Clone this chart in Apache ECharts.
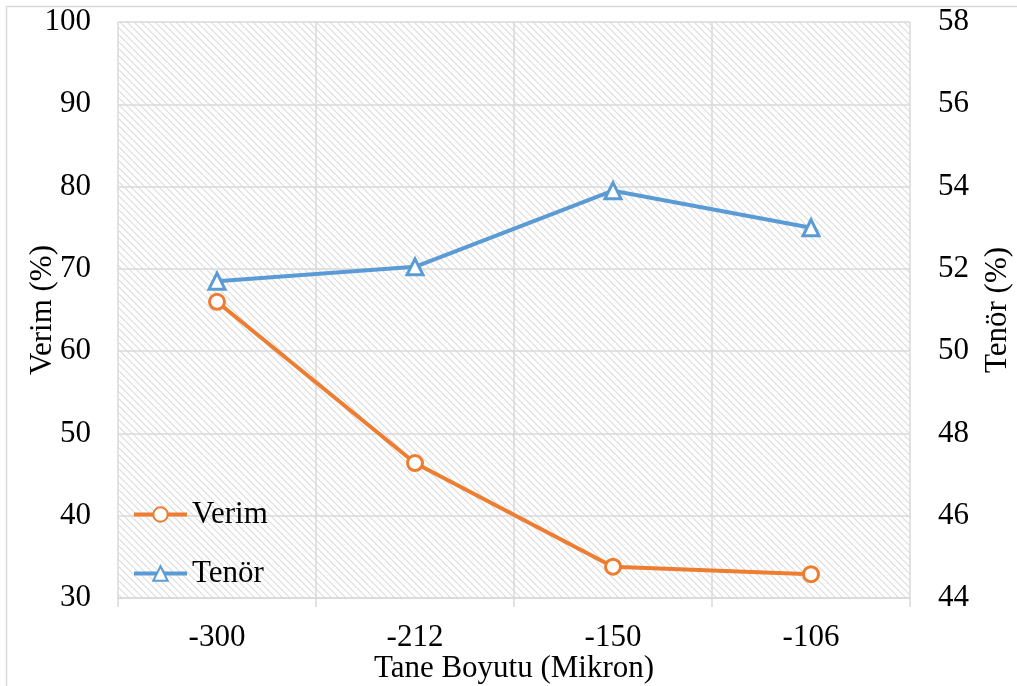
<!DOCTYPE html>
<html>
<head>
<meta charset="utf-8">
<script src="https://cdn.jsdelivr.net/npm/echarts@6/dist/echarts.min.js"></script>
<style>
html,body{margin:0;padding:0;background:#fff;}
#chart{width:1017px;height:686px;}
</style>
</head>
<body>
<div id="chart"></div>
<script>
const categories = ['-300', '-212', '-150', '-106'];
const verim = [66.0, 46.4, 33.8, 32.9];
const tenor = [51.7, 52.05, 53.9, 53.0];
const leftTicks = { min: 30, max: 100, interval: 10 };
const rightTicks = { min: 44, max: 58, interval: 2 };

const T = 7;
const tile = document.createElement('canvas');
tile.width = T; tile.height = T;
const ctx = tile.getContext('2d');
ctx.fillStyle = '#ffffff';
ctx.fillRect(0, 0, T, T);
ctx.strokeStyle = '#dcdcdc';
ctx.lineWidth = 1.2;
for (let k = -1; k <= 1; k++) {
  ctx.beginPath();
  ctx.moveTo(k * T, 0);
  ctx.lineTo(k * T + T, T);
  ctx.stroke();
}

const FONT = '"Liberation Serif", "Times New Roman", serif';
const FS = 31;
const gray = '#d9d9d9';
const chart = echarts.init(document.getElementById('chart'));
chart.setOption({
  animation: false,
  backgroundColor: '#ffffff',
  textStyle: { fontFamily: FONT, color: '#000' },
  graphic: [{
    type: 'rect', left: 4, top: 4, z: -10, silent: true,
    shape: { width: 1100, height: 800 },
    style: { fill: 'none', stroke: gray, lineWidth: 1.5 }
  }],
  grid: {
    left: 118, right: 107, top: 22, bottom: 88,
    outerBoundsMode: 'none', containLabel: false,
    show: true, borderWidth: 0,
    backgroundColor: { image: tile, repeat: 'repeat' }
  },
  legend: {
    orient: 'vertical', left: 132, top: 499, itemGap: 28, padding: 0,
    itemWidth: 53, itemHeight: 18,
    lineStyle: { width: 4 },
    textStyle: { fontFamily: FONT, fontSize: FS, color: '#000', lineHeight: 30 },
    data: ['Verim', 'Tenör']
  },
  xAxis: {
    type: 'category', data: categories, boundaryGap: true,
    name: 'Tane Boyutu (Mikron)', nameLocation: 'middle', nameGap: 55, nameMoveOverlap: false,
    nameTextStyle: { fontFamily: FONT, fontSize: FS, color: '#000' },
    axisLine: { lineStyle: { color: gray, width: 1.5 } },
    axisTick: { show: true, length: 9, lineStyle: { color: gray, width: 1.5 } },
    axisLabel: { fontFamily: FONT, fontSize: FS, color: '#000', margin: 24 },
    splitLine: { show: true, lineStyle: { color: gray, width: 1.5 } }
  },
  yAxis: [{
    type: 'value', position: 'left', min: leftTicks.min, max: leftTicks.max, interval: leftTicks.interval,
    name: 'Verim (%)', nameLocation: 'middle', nameGap: 60, nameRotate: 90, nameMoveOverlap: false,
    nameTextStyle: { fontFamily: FONT, fontSize: FS, color: '#000' },
    axisLine: { show: false }, axisTick: { show: false },
    axisLabel: { fontFamily: FONT, fontSize: FS, color: '#000', margin: 27 },
    splitLine: { show: true, lineStyle: { color: gray, width: 1.5 } }
  }, {
    type: 'value', position: 'right', min: rightTicks.min, max: rightTicks.max, interval: rightTicks.interval,
    name: 'Tenör (%)', nameLocation: 'middle', nameGap: 72, nameRotate: 90, nameMoveOverlap: false,
    nameTextStyle: { fontFamily: FONT, fontSize: FS, color: '#000' },
    axisLine: { show: false }, axisTick: { show: false },
    axisLabel: { fontFamily: FONT, fontSize: FS, color: '#000', margin: 28 },
    splitLine: { show: false }
  }],
  series: [{
    name: 'Verim', type: 'line', yAxisIndex: 0, data: verim,
    symbol: 'circle', symbolSize: 15, showAllSymbol: true,
    lineStyle: { color: '#ED7D31', width: 4 },
    itemStyle: { color: '#ffffff', borderColor: '#ED7D31', borderWidth: 3 }
  }, {
    name: 'Tenör', type: 'line', yAxisIndex: 1, data: tenor,
    symbol: 'triangle', symbolSize: 16, showAllSymbol: true,
    lineStyle: { color: '#5B9BD5', width: 4 },
    itemStyle: { color: '#ffffff', borderColor: '#5B9BD5', borderWidth: 3 }
  }]
});
</script>
</body>
</html>
